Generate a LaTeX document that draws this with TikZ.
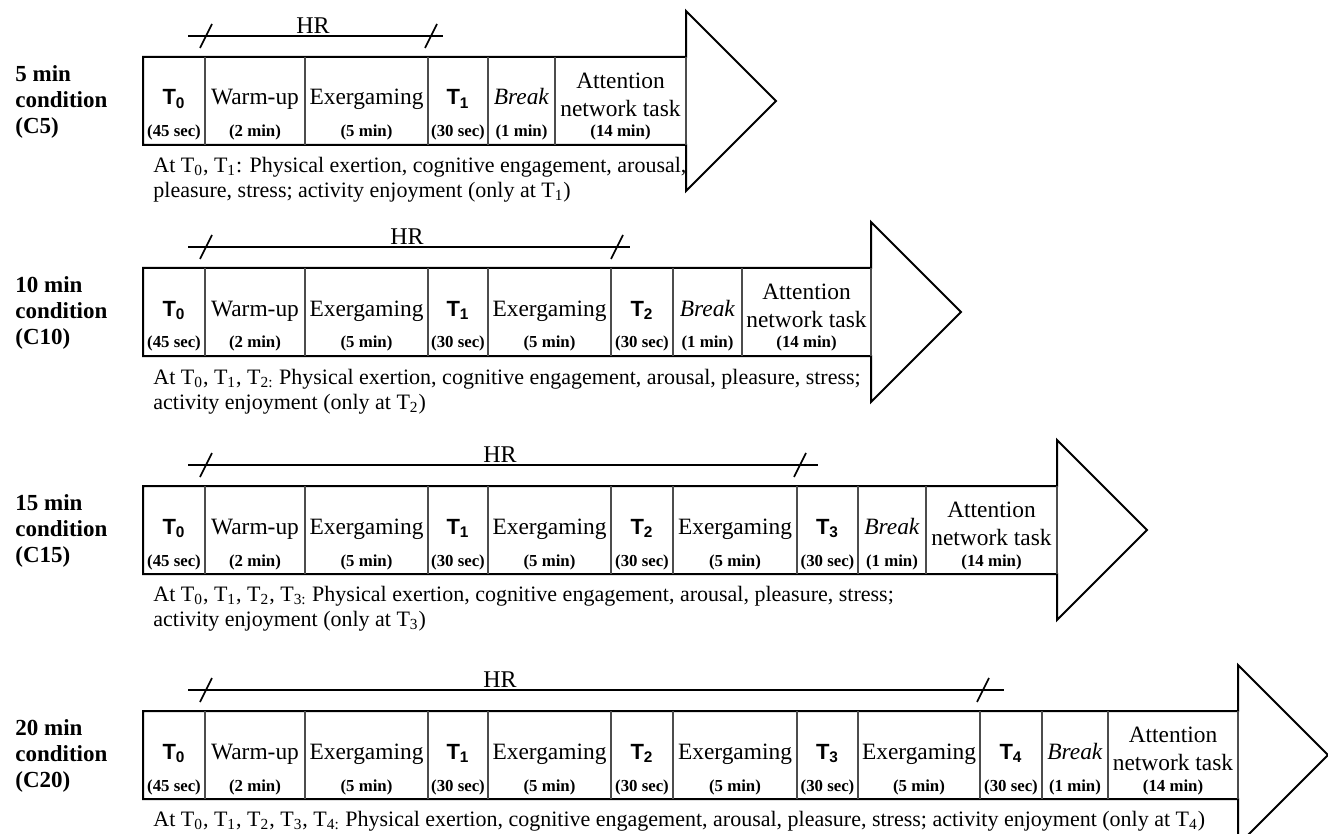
\documentclass[tikz,border=0pt]{standalone}
\usepackage{fontspec}
\setmainfont{Liberation Serif}
\setsansfont{Liberation Sans}

\newcommand{\tpt}[1]{{\fontsize{11}{13}\selectfont\sffamily\bfseries T\textsubscript{#1}}}
\newcommand{\tsb}[1]{T\textsubscript{#1}}

\tikzset{
  shaft/.style={draw, line width=1pt},
  divline/.style={draw=black!70, line width=0.6pt},
  hrline/.style={draw, line width=0.8pt},
  cellmain/.style={anchor=base, inner sep=0pt, align=center, font=\fontsize{11.7}{14}\selectfont},
  celldur/.style={anchor=base, inner sep=0pt, font=\fontsize{8.4}{10}\selectfont\bfseries},
  rowlab/.style={anchor=west, inner sep=0pt, align=left, font=\fontsize{11.5}{12.9}\selectfont\bfseries},
  note/.style={anchor=north west, inner sep=0pt, align=left, font=\fontsize{11}{12.5}\selectfont},
  hrtext/.style={inner sep=0pt, font=\fontsize{12}{14}\selectfont},
}

\begin{document}
\begin{tikzpicture}[x=0.5pt, y=-0.5pt]
    \useasboundingbox (0,0) rectangle (1328,834);

    % Flechas, HR y etiquetas de las cuatro condiciones
    \foreach \r/\cy/\xe/\xh/\xs/\xt/\att/\lab in {
        c5/101/686/443/431/313/555/{5 min\\condition\\(C5)},
        c10/312/871/630/617/407/742/{10 min\\condition\\(C10)},
        c15/530/1057/818/800/500/926/{15 min\\condition\\(C15)},
        c20/755/1238/1004/983/500/1108/{20 min\\condition\\(C20)}}{
        \node[rowlab] (\r-lab) at (15,\cy+1) {\lab};
        \draw[shaft] (143,\cy-44) -- (\xe,\cy-44) -- (\xe,\cy-90) -- (\xe+90,\cy)
            -- (\xe,\cy+90) -- (\xe,\cy+44) -- (143,\cy+44) -- cycle;
        \draw[divline] (\xe,\cy-44) -- (\xe,\cy+44);
        \node[cellmain, anchor=center] (\r-att) at ({(\att+\xe)/2},\cy-6) {Attention\\network task};
        \node[celldur] (\r-attd) at ({(\att+\xe)/2},\cy+36) {(14 min)};
        % HR
        \coordinate (\r-hrA) at (188,\cy-65);
        \coordinate (\r-hrB) at (\xh,\cy-65);
        \draw[hrline] (\r-hrA) -- (\r-hrB);
        \draw[hrline] (200,\cy-53) -- (212,\cy-77);
        \draw[hrline] (\xs-6,\cy-53) -- (\xs+6,\cy-77);
        \node[hrtext] (\r-hr) at (\xt,\cy-75) {HR};
    }

    % Celdas C5
    \foreach \xa/\xb/\main/\dur [count=\i] in {143/205/{\tpt0}/45 sec, 205/305/Warm-up/2 min,
        305/428/Exergaming/5 min, 428/488/{\tpt1}/30 sec, 488/555/{\textit{Break}}/1 min}{
        \draw[divline] (\xb,57) -- (\xb,145);
        \node[cellmain] (c5-m\i) at ({(\xa+\xb)/2},105) {\main};
        \node[celldur] (c5-d\i) at ({(\xa+\xb)/2},137) {(\dur)};
    }

    % Celdas C10
    \foreach \xa/\xb/\main/\dur [count=\i] in {143/205/{\tpt0}/45 sec, 205/305/Warm-up/2 min,
        305/428/Exergaming/5 min, 428/488/{\tpt1}/30 sec, 488/611/Exergaming/5 min,
        611/673/{\tpt2}/30 sec, 673/742/{\textit{Break}}/1 min}{
        \draw[divline] (\xb,268) -- (\xb,356);
        \node[cellmain] (c10-m\i) at ({(\xa+\xb)/2},316) {\main};
        \node[celldur] (c10-d\i) at ({(\xa+\xb)/2},348) {(\dur)};
    }

    % Celdas C15
    \foreach \xa/\xb/\main/\dur [count=\i] in {143/205/{\tpt0}/45 sec, 205/305/Warm-up/2 min,
        305/428/Exergaming/5 min, 428/488/{\tpt1}/30 sec, 488/611/Exergaming/5 min,
        611/673/{\tpt2}/30 sec, 673/797/Exergaming/5 min, 797/858/{\tpt3}/30 sec,
        858/926/{\textit{Break}}/1 min}{
        \draw[divline] (\xb,486) -- (\xb,574);
        \node[cellmain] (c15-m\i) at ({(\xa+\xb)/2},534) {\main};
        \node[celldur] (c15-d\i) at ({(\xa+\xb)/2},566) {(\dur)};
    }

    % Celdas C20
    \foreach \xa/\xb/\main/\dur [count=\i] in {143/205/{\tpt0}/45 sec, 205/305/Warm-up/2 min,
        305/428/Exergaming/5 min, 428/488/{\tpt1}/30 sec, 488/611/Exergaming/5 min,
        611/673/{\tpt2}/30 sec, 673/797/Exergaming/5 min, 797/858/{\tpt3}/30 sec,
        858/980/Exergaming/5 min, 980/1042/{\tpt4}/30 sec, 1042/1108/{\textit{Break}}/1 min}{
        \draw[divline] (\xb,711) -- (\xb,799);
        \node[cellmain] (c20-m\i) at ({(\xa+\xb)/2},759) {\main};
        \node[celldur] (c20-d\i) at ({(\xa+\xb)/2},791) {(\dur)};
    }

    % Medidas
    \node[note] (c5-note) at (153,157) {At \tsb{0}, \tsb{1}: Physical exertion, cognitive engagement, arousal,\\pleasure, stress; activity enjoyment (only at \tsb{1})};
    \node[note] (c10-note) at (153,369) {At \tsb{0}, \tsb{1}, \tsb{2:} Physical exertion, cognitive engagement, arousal, pleasure, stress;\\activity enjoyment (only at \tsb{2})};
    \node[note] (c15-note) at (153,586) {At \tsb{0}, \tsb{1}, \tsb{2}, \tsb{3:} Physical exertion, cognitive engagement, arousal, pleasure, stress;\\activity enjoyment (only at \tsb{3})};
    \node[note] (c20-note) at (153,811) {At \tsb{0}, \tsb{1}, \tsb{2}, \tsb{3}, \tsb{4:} Physical exertion, cognitive engagement, arousal, pleasure, stress; activity enjoyment (only at \tsb{4})};
\end{tikzpicture}
\end{document}
